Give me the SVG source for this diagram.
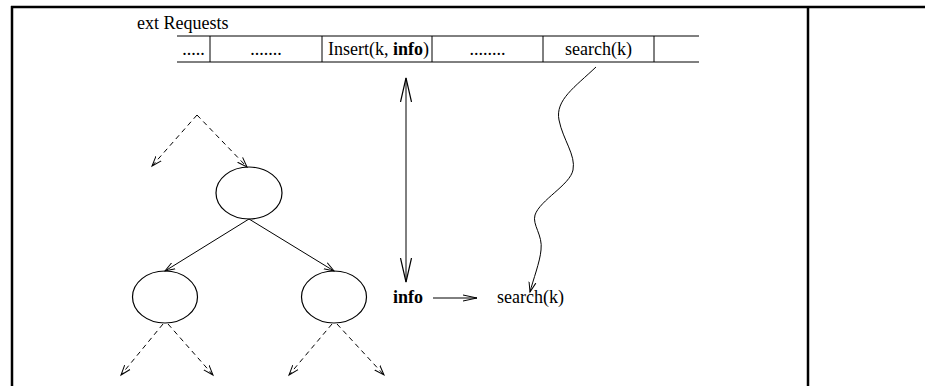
<svg xmlns="http://www.w3.org/2000/svg" width="925" height="386" viewBox="0 0 925 386">
<style>
.t{font-family:"Liberation Serif","Times New Roman",serif;font-size:18px;fill:#000}
.b{font-weight:bold}
.ln{stroke:#000;stroke-width:1;fill:none}
.dash{stroke:#000;stroke-width:1;fill:none;stroke-dasharray:5,4}
.node{stroke:#000;stroke-width:1.2;fill:none}
.frame{stroke:#000;stroke-width:2.5;fill:none}
</style>
<defs>
<marker id="a" markerWidth="12" markerHeight="10" refX="10" refY="5" orient="auto" markerUnits="userSpaceOnUse">
<path d="M0,1.5 L10,5 L0,8.5" fill="none" stroke="#000" stroke-width="1" stroke-dasharray="none"/>
</marker>
<marker id="big" markerWidth="26" markerHeight="14" refX="24" refY="7" orient="auto-start-reverse" markerUnits="userSpaceOnUse">
<path d="M0,1.5 L24,7 L0,12.5" fill="none" stroke="#000" stroke-width="1.2"/>
</marker>
<marker id="h" markerWidth="16" markerHeight="10" refX="14" refY="5" orient="auto" markerUnits="userSpaceOnUse">
<path d="M0,2 L14,5 L0,8" fill="none" stroke="#000" stroke-width="1"/>
</marker>
</defs>
<g id="frame">
<line class="frame" x1="11" y1="7" x2="925" y2="7"/>
<line class="frame" x1="12" y1="6" x2="12" y2="386"/>
<line class="frame" x1="808" y1="7" x2="808" y2="386"/>
</g>
<g id="queue">
<text class="t" x="137" y="29">ext Requests</text>
<line class="ln" x1="177" y1="36" x2="699" y2="36" stroke-width="1.3"/>
<line class="ln" x1="177" y1="62" x2="699" y2="62" stroke-width="1.3"/>
<line class="ln" x1="210" y1="36" x2="210" y2="62"/>
<line class="ln" x1="322" y1="36" x2="322" y2="62"/>
<line class="ln" x1="432" y1="36" x2="432" y2="62"/>
<line class="ln" x1="543" y1="36" x2="543" y2="62"/>
<line class="ln" x1="654" y1="36" x2="654" y2="62"/>
<text class="t" x="193.5" y="55" text-anchor="middle">.....</text>
<text class="t" x="266" y="55" text-anchor="middle">.......</text>
<text class="t" x="328" y="55">Insert(k, <tspan class="b">info</tspan>)</text>
<text class="t" x="487.5" y="55" text-anchor="middle">........</text>
<text class="t" x="598.5" y="55" text-anchor="middle">search(k)</text>
</g>
<g id="root"><ellipse class="node" cx="249" cy="193" rx="33" ry="26"/></g>
<g id="left"><ellipse class="node" cx="165" cy="297" rx="32.5" ry="26"/></g>
<g id="right"><ellipse class="node" cx="334" cy="297" rx="32.5" ry="26"/></g>
<g id="info"><text class="t b" x="393" y="303">info</text></g>
<g id="search"><text class="t" x="497" y="303">search(k)</text></g>
<g id="connectors">
<line class="dash" x1="197" y1="115" x2="152" y2="166" marker-end="url(#a)"/>
<line class="dash" x1="197" y1="115" x2="247" y2="167" marker-end="url(#a)"/>
<line class="ln" x1="249" y1="219" x2="165" y2="271" marker-end="url(#a)"/>
<line class="ln" x1="249" y1="219" x2="334" y2="271" marker-end="url(#a)"/>
<line class="dash" x1="163" y1="324" x2="121" y2="375" marker-end="url(#a)"/>
<line class="dash" x1="168" y1="324" x2="213" y2="375" marker-end="url(#a)"/>
<line class="dash" x1="332" y1="324" x2="289" y2="375" marker-end="url(#a)"/>
<line class="dash" x1="337" y1="324" x2="384" y2="375" marker-end="url(#a)"/>
<line class="ln" x1="406" y1="78" x2="406" y2="282" stroke-width="1.2" marker-start="url(#big)" marker-end="url(#big)"/>
<line class="ln" x1="433" y1="298" x2="477" y2="298" marker-end="url(#h)"/>
<path class="ln" d="M596,67 C575,87 555,100 559,120 C563,140 576,155 573,170 C570,185 540,200 535,215 C532,225 543,235 541,250 C540,262 533,280 530,292" marker-end="url(#a)"/>
</g>
</svg>
